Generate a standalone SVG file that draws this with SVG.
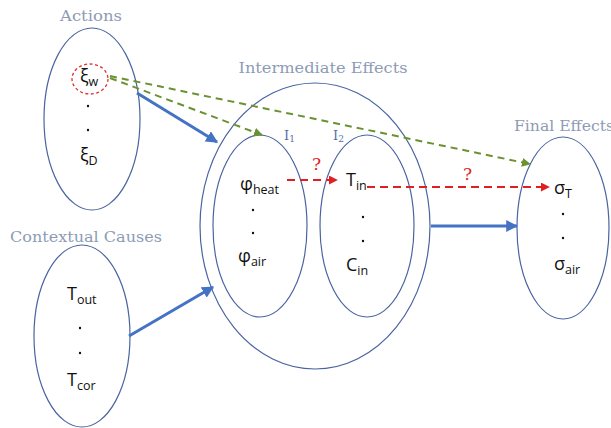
<svg xmlns="http://www.w3.org/2000/svg" width="611" height="428" viewBox="0 0 611 428">
<style>
.ell{fill:none;stroke:#4a64a0;stroke-width:1.2}
.title{font-family:"DejaVu Serif",serif;font-size:15px;fill:#8d9bb5;font-weight:normal}
.var{font-family:"Open Sans","Liberation Sans",sans-serif;font-size:18px;fill:#111}
.sub{font-size:12.5px}
.dot{fill:#111}
.ilab{font-family:"DejaVu Serif",serif;font-size:13px;fill:#5a6fa8}
.blue{stroke:#4472c4;stroke-width:3;fill:none}
.green{stroke:#6a9232;stroke-width:2;fill:none;stroke-dasharray:7 5}
.red{stroke:#e02020;stroke-width:2;fill:none;stroke-dasharray:8 5}
.q{font-family:"DejaVu Serif",serif;font-size:17px;fill:#e02020}
</style>
<defs>
<marker id="ab" viewBox="0 0 10 10" refX="9" refY="5" markerWidth="4" markerHeight="4" orient="auto" markerUnits="strokeWidth"><path d="M0,0 L10,5 L0,10 z" fill="#4472c4"/></marker>
<marker id="ag" viewBox="0 0 10 10" refX="9" refY="5" markerWidth="4.5" markerHeight="4.5" orient="auto" markerUnits="strokeWidth"><path d="M0,0 L10,5 L0,10 z" fill="#6a9232"/></marker>
<marker id="ar" viewBox="0 0 10 10" refX="9" refY="5" markerWidth="4.5" markerHeight="4.5" orient="auto" markerUnits="strokeWidth"><path d="M0,0 L10,5 L0,10 z" fill="#e02020"/></marker>
</defs>
<rect width="611" height="428" fill="#fff"/>

<g id="actions">
<text class="title" x="91" y="21" text-anchor="middle" textLength="62" lengthAdjust="spacingAndGlyphs">Actions</text>
<ellipse class="ell" cx="92" cy="119" rx="48" ry="91"/>
<ellipse cx="90" cy="79" rx="18" ry="15" fill="none" stroke="#e03030" stroke-width="1.3" stroke-dasharray="3 2.5"/>
<text class="var" x="80" y="82">ξ<tspan class="sub" dy="4">w</tspan></text>
<circle class="dot" cx="88" cy="106" r="1.2"/>
<circle class="dot" cx="88" cy="130" r="1.2"/>
<text class="var" x="80" y="161">ξ<tspan class="sub" dy="4">D</tspan></text>
</g>

<g id="contextual">
<text class="title" x="86" y="242" text-anchor="middle" textLength="152" lengthAdjust="spacingAndGlyphs">Contextual Causes</text>
<ellipse class="ell" cx="82" cy="336" rx="48" ry="91"/>
<text class="var" x="67" y="300">T<tspan class="sub" dy="4">out</tspan></text>
<circle class="dot" cx="80" cy="328" r="1.2"/>
<circle class="dot" cx="80" cy="353" r="1.2"/>
<text class="var" x="67" y="386">T<tspan class="sub" dy="4">cor</tspan></text>
</g>

<g id="intermediate">
<text class="title" x="323" y="73" text-anchor="middle" textLength="169" lengthAdjust="spacingAndGlyphs">Intermediate Effects</text>
<ellipse class="ell" cx="315" cy="226" rx="115" ry="143"/>
</g>

<g id="i1">
<ellipse class="ell" cx="260" cy="226" rx="47" ry="91"/>
<text class="ilab" x="284" y="140">I<tspan font-size="9" dy="2">1</tspan></text>
<text class="var" x="240" y="190">φ<tspan class="sub" dy="4">heat</tspan></text>
<circle class="dot" cx="253" cy="210" r="1.2"/>
<circle class="dot" cx="253" cy="233" r="1.2"/>
<text class="var" x="238" y="262">φ<tspan class="sub" dy="4">air</tspan></text>
</g>

<g id="i2">
<ellipse class="ell" cx="367" cy="226" rx="47" ry="91"/>
<text class="ilab" x="333" y="140">I<tspan font-size="9" dy="2">2</tspan></text>
<text class="var" x="346" y="186">T<tspan class="sub" dy="4">in</tspan></text>
<circle class="dot" cx="363" cy="217" r="1.2"/>
<circle class="dot" cx="363" cy="241" r="1.2"/>
<text class="var" x="346" y="271">C<tspan class="sub" dy="4">in</tspan></text>
</g>

<g id="final">
<text class="title" x="514" y="131" textLength="100" lengthAdjust="spacingAndGlyphs">Final Effects</text>
<ellipse class="ell" cx="563" cy="228" rx="46" ry="91"/>
<text class="var" x="554" y="194">σ<tspan class="sub" dy="4">T</tspan></text>
<circle class="dot" cx="563" cy="214" r="1.2"/>
<circle class="dot" cx="563" cy="238" r="1.2"/>
<text class="var" x="554" y="270">σ<tspan class="sub" dy="4">air</tspan></text>
</g>

<g id="connectors">
<line class="blue" x1="137" y1="93" x2="217" y2="142" marker-end="url(#ab)"/>
<line class="blue" x1="129" y1="336" x2="213" y2="287" marker-end="url(#ab)"/>
<line class="blue" x1="431" y1="226" x2="517" y2="226" marker-end="url(#ab)"/>
<line class="green" x1="110" y1="78" x2="262" y2="135" marker-end="url(#ag)"/>
<line class="green" x1="110" y1="76" x2="530" y2="164" marker-end="url(#ag)"/>
<line class="red" x1="287" y1="180" x2="337" y2="180" marker-end="url(#ar)"/>
<line class="red" x1="367" y1="187" x2="549" y2="187" marker-end="url(#ar)"/>
<text class="q" x="312" y="170">?</text>
<text class="q" x="463" y="180">?</text>
</g>
</svg>
